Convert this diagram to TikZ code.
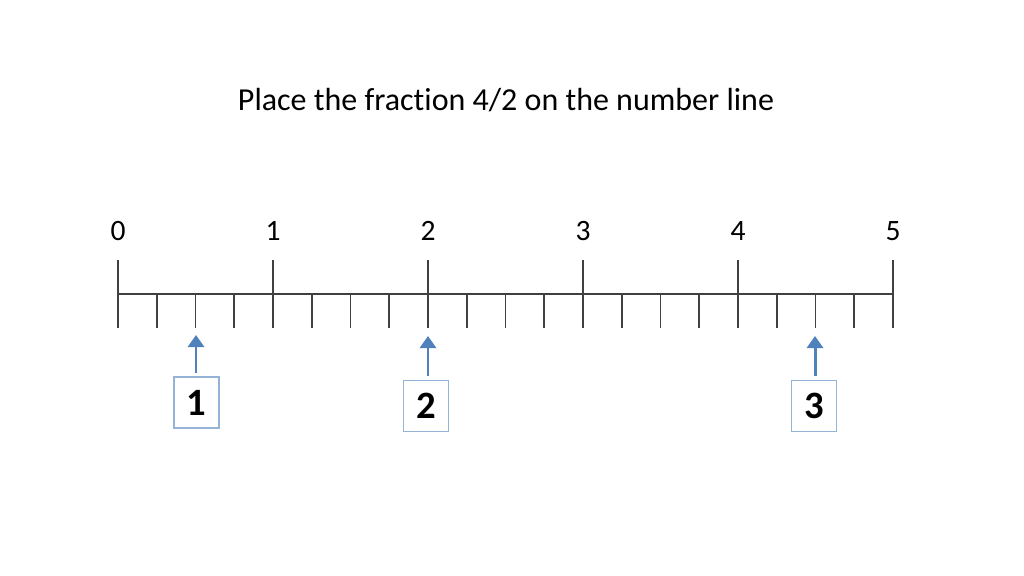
\documentclass[tikz,border=0pt]{standalone}
\usepackage{fontspec}
\setmainfont{Carlito}[Ligatures=NoCommon]
\usetikzlibrary{arrows.meta,positioning}
\definecolor{linegray}{RGB}{64,64,64}
\definecolor{arrowblue}{RGB}{79,129,189}
\definecolor{boxblue}{RGB}{149,179,215}
\tikzset{
  axisline/.style={draw=linegray,line width=0.5pt},
  numlbl/.style={font=\fontsize{8.4}{10}\selectfont,text=black,inner sep=0pt},
  ansbox/.style={draw=boxblue,line width=0.35pt,minimum width=0.45cm,minimum height=0.51cm,
                 inner sep=0pt,font=\fontsize{11}{12}\selectfont\bfseries},
  uparr/.style={-{Triangle[length=1.2mm,width=1.6mm]},draw=arrowblue,line width=0.85pt},
}

\begin{document}
\begin{tikzpicture}[x=0.01cm,y=-0.01cm]
        \useasboundingbox (0,0) rectangle (1024,576);
        \node[font=\fontsize{9.1}{11}\selectfont] (title) at (506,100)
              {Place the fraction 4/2 on the number line};
        % number line
        \draw[axisline] (118,294) coordinate (lineL) -- (893,294) coordinate (lineR);
        \foreach \i in {0,...,5}{
          \draw[axisline] (118+155*\i,260) -- (118+155*\i,328);
          \node[numlbl] (n\i) at (118+155*\i,231) {\i};
        }
        \foreach \j in {1,...,19}{
          \draw[axisline] (118+38.75*\j,294) -- (118+38.75*\j,328);
        }
        % answer boxes
        \coordinate (p1) at (196,335);
        \coordinate (p2) at (428,336);
        \coordinate (p3) at (815,336);
        \node[ansbox] (b1) at (196.5,402.5) {1};
        \node[ansbox] (b2) at (426,406) {2};
        \node[ansbox] (b3) at (814,406) {3};
        \draw[uparr] ([yshift=1pt]p1 |- b1.north) -- (p1);
        \draw[uparr] ([yshift=1pt]p2 |- b2.north) -- (p2);
        \draw[uparr] ([yshift=1pt]p3 |- b3.north) -- (p3);
      \end{tikzpicture}
\end{document}
